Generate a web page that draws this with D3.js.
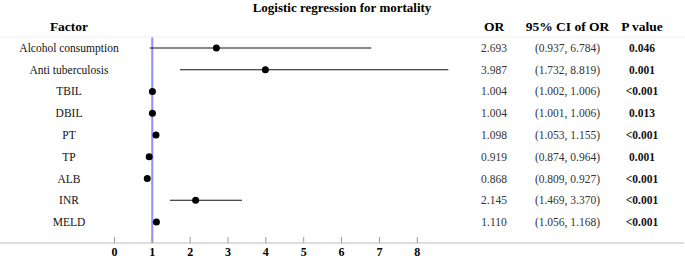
<!DOCTYPE html>
<html><head><meta charset="utf-8">
<script src="https://cdn.jsdelivr.net/npm/d3@7"></script>
<style>body{margin:0;background:#fff}svg{display:block}text{font-family:"Liberation Serif","Times New Roman",serif}</style>
</head><body>
<svg id="c" width="685" height="258"></svg>
<script>
const title = "Logistic regression for mortality";
const factors = ["Alcohol consumption","Anti tuberculosis","TBIL","DBIL","PT","TP","ALB","INR","MELD"];
const orValues = [2.693,3.987,1.004,1.004,1.098,0.919,0.868,2.145,1.110];
const ciLow = [0.937,1.732,1.002,1.001,1.053,0.874,0.809,1.469,1.056];
const ciHigh = [6.784,8.819,1.006,1.006,1.155,0.964,0.927,3.370,1.168];
const pValues = ["0.046","0.001","<0.001","0.013","<0.001","0.001","<0.001","<0.001","<0.001"];
const xTicks = [0,1,2,3,4,5,6,7,8];
const headers = ["Factor","OR","95% CI of OR","P value"];

const svg = d3.select("#c");
const x = d3.scaleLinear().domain([0,8]).range([114.4,417.3]);
const y = d3.scaleBand().domain(factors).range([37.1,232.9]);
const cy = d => y(d) + y.bandwidth()/2;

svg.append("text").attr("x",342).attr("y",12).attr("text-anchor","middle")
  .attr("font-weight","bold").attr("font-size",13).text(title);

const hx = [69,494,567.5,642];
svg.selectAll("text.hdr").data(headers).join("text").attr("class","hdr")
  .attr("x",(d,i)=>hx[i]).attr("y",31).attr("text-anchor","middle")
  .attr("font-weight","bold").attr("font-size",13.5).text(d=>d);

svg.append("line").attr("x1",0).attr("x2",685).attr("y1",37).attr("y2",37)
  .attr("stroke","#eeeeee").attr("stroke-width",1);

// reference line at OR=1
svg.append("line").attr("x1",x(1)).attr("x2",x(1)).attr("y1",37.5).attr("y2",243)
  .attr("stroke","#8f8fff").attr("stroke-width",2);

// axis
const axisG = svg.append("g").attr("transform","translate(0,243)");
axisG.append("line").attr("x1",0).attr("x2",684).attr("y1",0).attr("y2",0)
  .attr("stroke","#bbbbbb").attr("stroke-width",1);
axisG.selectAll("line.tk").data(xTicks).join("line").attr("class","tk")
  .attr("x1",d=>x(d)).attr("x2",d=>x(d)).attr("y1",-6).attr("y2",0)
  .attr("stroke","#999").attr("stroke-width",1);
axisG.selectAll("text.tl").data(xTicks).join("text").attr("class","tl")
  .attr("x",d=>x(d)).attr("y",13).attr("text-anchor","middle")
  .attr("font-weight","bold").attr("font-size",12).text(d=>d);

const rows = factors.map((f,i)=>({f, or:orValues[i], lo:ciLow[i], hi:ciHigh[i], p:pValues[i]}));

svg.selectAll("text.fac").data(rows).join("text").attr("class","fac")
  .attr("x",69).attr("y",d=>cy(d.f)+4).attr("text-anchor","middle")
  .attr("font-size",11.5).attr("fill","#111").text(d=>d.f);

svg.selectAll("line.ci").data(rows).join("line").attr("class","ci")
  .attr("x1",d=>x(d.lo)).attr("x2",d=>x(d.hi)).attr("y1",d=>cy(d.f)).attr("y2",d=>cy(d.f))
  .attr("stroke","#111").attr("stroke-width",1.2);

svg.selectAll("circle.pt").data(rows).join("circle").attr("class","pt")
  .attr("cx",d=>x(d.or)).attr("cy",d=>cy(d.f)).attr("r",3.5).attr("fill","#000");

svg.selectAll("text.or").data(rows).join("text").attr("class","or")
  .attr("x",hx[1]).attr("y",d=>cy(d.f)+4).attr("text-anchor","middle")
  .attr("font-size",11.5).attr("fill","#333").text(d=>d.or.toFixed(3));

svg.selectAll("text.cit").data(rows).join("text").attr("class","cit")
  .attr("x",hx[2]).attr("y",d=>cy(d.f)+4).attr("text-anchor","middle")
  .attr("font-size",11.5).attr("fill","#333").text(d=>`(${d.lo.toFixed(3)}, ${d.hi.toFixed(3)})`);

svg.selectAll("text.pv").data(rows).join("text").attr("class","pv")
  .attr("x",hx[3]).attr("y",d=>cy(d.f)+4).attr("text-anchor","middle")
  .attr("font-size",11.5).attr("font-weight","bold").attr("fill","#111").text(d=>d.p);
</script>
</body></html>
